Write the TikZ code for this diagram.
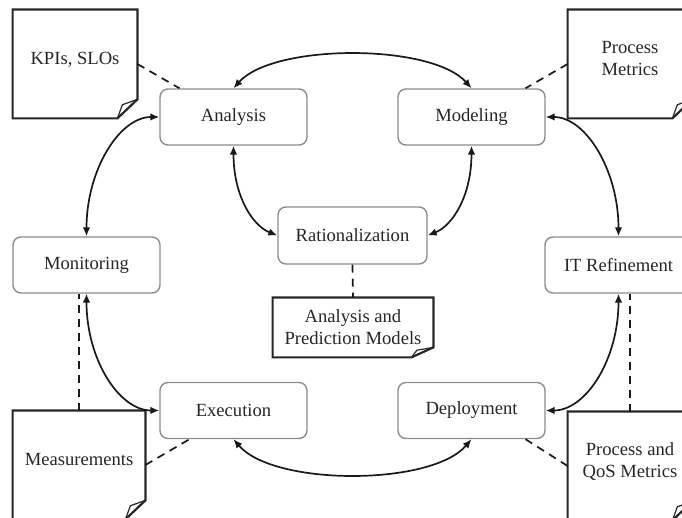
\documentclass[tikz,border=0pt]{standalone}
\usepackage{fontspec}
\setmainfont{Liberation Serif}
\usetikzlibrary{arrows.meta,calc}
\newcommand\dogear[3]{%
  \draw[notedraw] (#1.north west) -- (#1.north east) -- ($(#1.south east)+(0,-#3)$) -- ($(#1.south east)+(-#2,0)$) -- (#1.south west) -- cycle;
  \draw[notedraw, line width=0.6pt] ($(#1.south east)+(-#2,0)$) -- ($(#1.south east)+(-#2*0.75,-#3*0.72)$) -- ($(#1.south east)+(0,-#3)$);
}
\begin{document}
\begin{tikzpicture}[x=0.5pt,y=-0.5pt,
  proc/.style={draw=black!45, line width=0.7pt, rounded corners=4pt, minimum width=73.5pt, minimum height=28pt, inner sep=0pt, font=\fontsize{9.3}{11}\selectfont, text=black!85},
  notebox/.style={minimum width=62pt, minimum height=54pt, inner sep=0pt, align=center, font=\fontsize{9.3}{11}\selectfont, text=black!85},
  notedraw/.style={draw=black!85, line width=1.1pt},
  link/.style={{Latex[length=4.5pt,width=3.8pt]}-{Latex[length=4.5pt,width=3.8pt]}, line width=0.85pt, black!90},
  dashlink/.style={dash pattern=on 4pt off 3pt, line width=0.85pt, black!90}
]
\useasboundingbox (0,0) rectangle (682,518);
\clip (0,0) rectangle (682,518);

% process boxes
\node[proc] (analysis)   at (233.5,117)   {Analysis};
\node[proc] (modeling)   at (471.5,117)   {Modeling};
\node[proc] (monitoring) at (86.5,265)    {Monitoring};
\node[proc] (itref)      at (618.5,265)   {IT Refinement};
\node[proc, minimum width=74.5pt, minimum height=28.5pt] (rational) at (352.5,235.5) {Rationalization};
\node[proc] (execution)  at (233.5,410.5) {Execution};
\node[proc] (deployment) at (471.5,410.5) {Deployment};

% notes
\node[notebox, text depth=6pt] (kpi)   at (75,64)   {KPIs, SLOs};
\node[notebox, text depth=6pt] (procm) at (630,64)  {Process\\Metrics};
\node[notebox, minimum width=66pt, text depth=6pt] (meas) at (79,465) {Measurements};
\node[notebox, text depth=6pt] (qos)   at (630,466) {Process and\\QoS Metrics};
\node[notebox, minimum width=80pt, minimum height=29.5pt] (apm) at (353,327.5) {Analysis and\\Prediction Models};

\dogear{kpi}{20}{19}
\dogear{procm}{20}{19}
\dogear{meas}{20}{19}
\dogear{qos}{20}{19}
\dogear{apm}{22}{10}

% solid connectors
\draw[link] (analysis.north) .. controls +(40,-45) and +(-40,-45) .. (modeling.north);
\draw[link] (execution.south) .. controls +(40,47) and +(-40,47) .. (deployment.south);
\draw[link] (monitoring.north) .. controls +(0,-66) and +(-40,0) .. (analysis.west);
\draw[link] (monitoring.south) .. controls +(0,66) and +(-40,0) .. (execution.west);
\draw[link] (itref.north) .. controls +(0,-66) and +(40,0) .. (modeling.east);
\draw[link] (itref.south) .. controls +(0,66) and +(40,0) .. (deployment.east);
\draw[link] (analysis.south) .. controls +(0,50) and +(-25,-10) .. (rational.west);
\draw[link] (modeling.south) .. controls +(0,50) and +(25,-10) .. (rational.east);

% dashed connectors
\draw[dashlink] (kpi.east) -- ($(analysis.north)+(-54,0)$);
\draw[dashlink] (procm.west) -- ($(modeling.north)+(54,0)$);
\draw[dashlink] (meas.north) -- (meas.north |- monitoring.south);
\draw[dashlink] (meas.east) -- ($(execution.south)+(-44,0)$);
\draw[dashlink] (qos.west) -- ($(deployment.south)+(54,0)$);
\draw[dashlink] (qos.north) -- (qos.north |- itref.south);
\draw[dashlink] (rational.south) -- (apm.north);
\end{tikzpicture}
\end{document}
